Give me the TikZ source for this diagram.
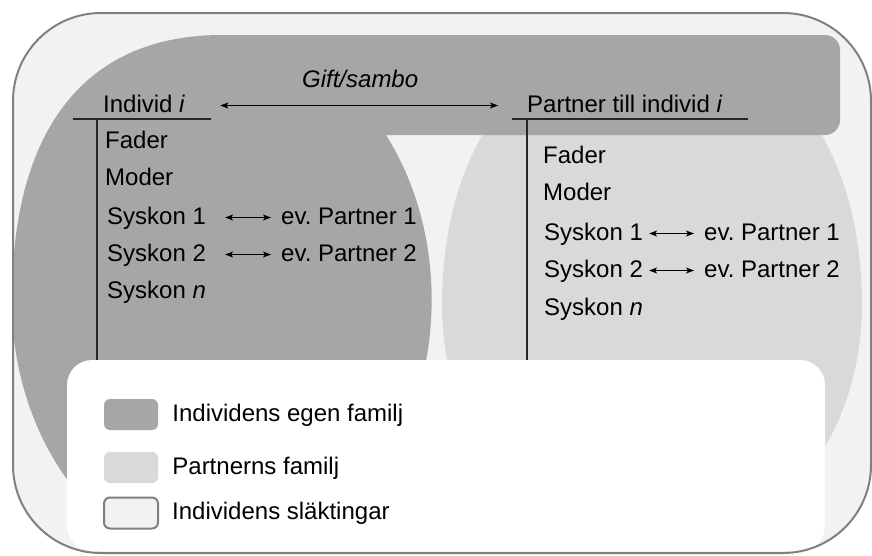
\documentclass[tikz,border=0pt]{standalone}
\usepackage{fontspec}
\setmainfont{Liberation Sans}
\usetikzlibrary{arrows.meta,positioning}

\definecolor{famdark}{HTML}{A6A6A6}
\definecolor{famlight}{HTML}{D9D9D9}
\definecolor{bgfill}{HTML}{F2F2F2}
\definecolor{edgegray}{HTML}{808080}

\tikzset{
  lbl/.style={anchor=base west, inner sep=0pt, text height=17pt, text depth=4pt},
  keytext/.style={inner sep=0pt, text height=17pt, text depth=4pt},
  swatch/.style={minimum width=54pt, minimum height=31pt, inner sep=0pt, rounded corners=6pt},
  arr/.style={line width=1pt, >={Stealth[length=8pt,width=6pt,inset=2pt]}, <->},
  bar/.style={line width=1.3pt, black!85},
}

\begin{document}
\frenchspacing
\begin{tikzpicture}[x=1pt,y=-1pt,every node/.style={font=\fontsize{24}{28}\selectfont}]
\useasboundingbox (0,0) rectangle (872,555);
\fill[bgfill, rounded corners=88pt] (13,13) rectangle (871,553);

\begin{scope}
\clip[rounded corners=88pt] (13,13) rectangle (871,545);
% partnerns familj
\fill[famlight] (652,35) .. controls (778,35) and (862,143) .. (862,305)
    arc[start angle=0, end angle=180, x radius=210, y radius=250]
    .. controls (442,143) and (526,35) .. (652,35);
% individens egen familj
\fill[famdark] (12,300) .. controls (12,128) and (86,35) .. (222,35)
    -- (825,35) arc[start angle=-90, end angle=0, radius=15]
    -- (840,120) arc[start angle=0, end angle=90, radius=15]
    -- (386,135) arc[start angle=-38.5, end angle=180, x radius=210, y radius=265]
    -- cycle;
\end{scope}

% tree bars
\draw[bar] (73,119) -- (211,119);
\draw[bar] (97,119) -- (97,370);
\draw[bar] (512,119) -- (748,119);
\draw[bar] (527,119) -- (527,370);

% legend box and frame
\fill[white, rounded corners=25pt] (67,360) rectangle (825,551);
\draw[edgegray, line width=2pt, rounded corners=88pt] (13,13) rectangle (871,553);

    \node[lbl] (indiv) at (103,112) {Individ \textit{i}};
    \node[lbl] (fadL) at (105,148) {Fader};
    \node[lbl] (modL) at (105,185) {Moder};
    \node[lbl] (sys1L) at (107,224) {Syskon 1};
    \node[lbl] (sys2L) at (107,261) {Syskon 2};
    \node[lbl] (sysnL) at (107,298) {Syskon \textit{n}};
    \node[lbl] (par1L) at (281,224) {ev. Partner 1};
    \node[lbl] (par2L) at (281,261) {ev. Partner 2};

    \node[lbl] (partner) at (527,112) {Partner till individ \textit{i}};
    \node[lbl] (fadR) at (543,163) {Fader};
    \node[lbl] (modR) at (543,200) {Moder};
    \node[lbl] (sys1R) at (544,240) {Syskon 1};
    \node[lbl] (sys2R) at (544,277) {Syskon 2};
    \node[lbl] (sysnR) at (544,315) {Syskon \textit{n}};
    \node[lbl] (par1R) at (704,240) {ev. Partner 1};
    \node[lbl] (par2R) at (704,277) {ev. Partner 2};

    \draw[arr, shorten <=35pt, shorten >=29pt] (indiv.east) -- node[anchor=base, yshift=18pt, xshift=4pt] (gift) {\textit{Gift/sambo}} (partner.west);
    \draw[arr, shorten <=19pt, shorten >=10pt] (sys1L.east) -- (par1L.west);
    \draw[arr, shorten <=19pt, shorten >=10pt] (sys2L.east) -- (par2L.west);
    \draw[arr, shorten <=6pt, shorten >=10pt] (sys1R.east) -- (par1R.west);
    \draw[arr, shorten <=6pt, shorten >=10pt] (sys2R.east) -- (par2R.west);

    \node[swatch, fill=famdark] (keyown) at (131,414.5) {};
    \node[swatch, fill=famlight] (keypart) at (131,467.5) {};
    \node[swatch, fill=bgfill, draw=edgegray, line width=2pt] (keyrel) at (131,513) {};
    \node[keytext, right=14pt of keyown] (txtown) {Individens egen familj};
    \node[keytext, right=14pt of keypart] (txtpart) {Partnerns familj};
    \node[keytext, right=13pt of keyrel] (txtrel) {Individens släktingar};
\end{tikzpicture}
\end{document}
